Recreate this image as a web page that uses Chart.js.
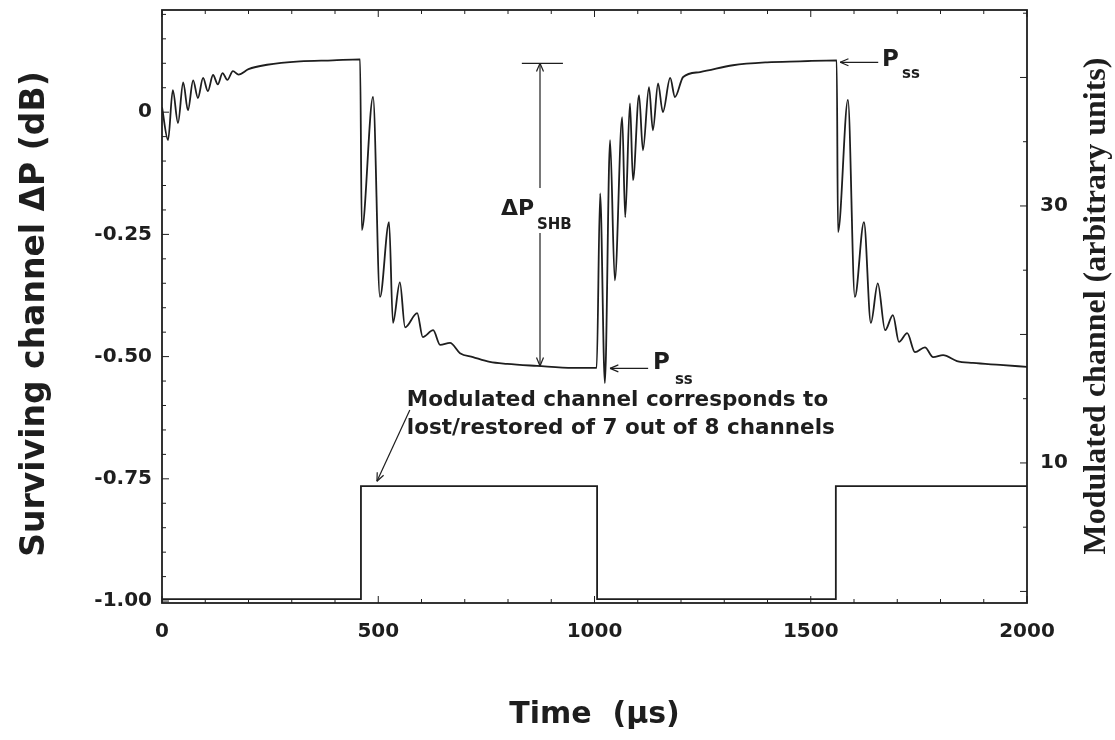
<!DOCTYPE html>
<html>
<head>
<meta charset="utf-8">
<script src="https://cdn.jsdelivr.net/npm/chart.js@4.4.1/dist/chart.umd.min.js"></script>
<style>
    body { margin: 0; background: #fff; }
    canvas { display: block; }
</style>
</head>
<body>
<canvas id="graphique" width="1115" height="740"></canvas>
<script>
// Canal survivant : temps (µs) et ΔP (dB)
const tempsSurvivant = [
    0, 14, 25, 37, 49, 60, 72, 83, 95, 106, 118, 129, 140, 151, 164, 177, 200, 243, 319, 395, 458,
    462, 488, 504, 525, 534, 550, 562, 590, 603, 627, 643, 666, 689, 719, 758, 798, 867, 950, 1005,
    1013, 1024, 1036, 1047, 1064, 1071, 1082, 1089, 1103, 1112, 1126, 1135, 1147, 1158, 1175, 1186, 1205, 1244, 1320, 1399, 1475, 1560,
    1563, 1586, 1602, 1623, 1639, 1655, 1672, 1690, 1704, 1723, 1741, 1764, 1783, 1806, 1838, 1875, 1938, 2000
];
const deltaP = [
    0.01, -0.057, 0.045, -0.022, 0.061, 0.004, 0.065, 0.029, 0.070, 0.043, 0.076, 0.057, 0.080, 0.066, 0.084, 0.077, 0.088, 0.097, 0.104, 0.106, 0.108,
    -0.241, 0.031, -0.378, -0.225, -0.431, -0.348, -0.44, -0.411, -0.46, -0.446, -0.476, -0.472, -0.493, -0.501, -0.511, -0.515, -0.519, -0.523, -0.523,
    -0.166, -0.554, -0.057, -0.344, -0.010, -0.215, 0.018, -0.139, 0.035, -0.078, 0.051, -0.037, 0.059, 0.0, 0.070, 0.031, 0.072, 0.082, 0.096, 0.102, 0.104, 0.106,
    -0.245, 0.025, -0.378, -0.225, -0.431, -0.35, -0.446, -0.415, -0.47, -0.452, -0.491, -0.481, -0.501, -0.497, -0.509, -0.513, -0.517, -0.521
];

// Canal modulé (unités arbitraires)
const tempsModule = [0, 460, 460, 1006, 1006, 1558, 1558, 2000];
const niveauModule = [-0.6, -0.6, 8.2, 8.2, -0.6, -0.6, 8.2, 8.2];

// Graduations
const ticksTemps = [0, 500, 1000, 1500, 2000];
const ticksDeltaP = [0, -0.25, -0.5, -0.75, -1.0];
const ticksModule = [10, 30];

const couleur = "#1e1e1e";
const policeTicks = { family: "DejaVu Sans", weight: "bold", size: 20 };

function trait(ctx, x1, y1, x2, y2) {
    ctx.beginPath();
    ctx.moveTo(x1, y1);
    ctx.lineTo(x2, y2);
    ctx.stroke();
}

// flèche ouverte, pointe en (x2, y2)
function fleche(ctx, x1, y1, x2, y2) {
    trait(ctx, x1, y1, x2, y2);
    const a = Math.atan2(y2 - y1, x2 - x1);
    const l = 9;
    trait(ctx, x2, y2, x2 - l * Math.cos(a - 0.4), y2 - l * Math.sin(a - 0.4));
    trait(ctx, x2, y2, x2 - l * Math.cos(a + 0.4), y2 - l * Math.sin(a + 0.4));
}

// texte tourné, lu de bas en haut
function texteVertical(ctx, texte, x, y, police) {
    ctx.save();
    ctx.font = police;
    ctx.textAlign = "center";
    ctx.textBaseline = "middle";
    ctx.translate(x, y);
    ctx.rotate(-Math.PI / 2);
    ctx.fillText(texte, 0, 0);
    ctx.restore();
}

// fond blanc
const fond = {
    id: "fond",
    beforeDraw(chart) {
        const ctx = chart.ctx;
        ctx.save();
        ctx.fillStyle = "#fff";
        ctx.fillRect(0, 0, chart.width, chart.height);
        ctx.restore();
    }
};

// cadre, petites graduations vers l'intérieur et titres verticaux
const cadre = {
    id: "cadre",
    afterDraw(chart) {
        const { ctx, chartArea: { left, right, top, bottom }, scales: { x, y, y2 } } = chart;
        ctx.save();
        ctx.strokeStyle = couleur;
        ctx.lineWidth = 1.8;
        ctx.strokeRect(left, top, right - left, bottom - top);
        ctx.lineWidth = 1;
        for (let t = 0; t <= 2000; t += 100) {
            const p = x.getPixelForValue(t);
            const l = t % 500 === 0 ? 7 : 4;
            trait(ctx, p, bottom, p, bottom - l);
            trait(ctx, p, top, p, top + l);
        }
        for (let i = -20; i <= 4; i++) {
            const p = y.getPixelForValue(i * 0.05);
            const l = i % 5 === 0 ? 7 : 4;
            trait(ctx, left, p, left + l, p);
        }
        for (let m = 0; m <= 45; m += 5) {
            const p = y2.getPixelForValue(m);
            const l = m % 10 === 0 ? 7 : 4;
            trait(ctx, right, p, right - l, p);
        }
        ctx.fillStyle = couleur;
        texteVertical(ctx, "Surviving channel ΔP (dB)", 35, 314, 'bold 33px "DejaVu Sans"');
        texteVertical(ctx, "Modulated channel (arbitrary units)", 1097, 306, 'bold 32px "Liberation Serif"');
        ctx.restore();
    }
};

// annotations placées en coordonnées des données
const annotations = {
    id: "annotations",
    afterDatasetsDraw(chart) {
        const { ctx, scales: { x, y } } = chart;
        const px = t => x.getPixelForValue(t);
        const py = v => y.getPixelForValue(v);
        ctx.save();
        ctx.strokeStyle = couleur;
        ctx.fillStyle = couleur;
        ctx.lineWidth = 1.2;

        // ΔP SHB
        trait(ctx, px(832), py(0.100), px(927), py(0.100));
        fleche(ctx, px(874), py(-0.155), px(874), py(0.100));
        fleche(ctx, px(874), py(-0.247), px(874), py(-0.519));
        ctx.textBaseline = "middle";
        ctx.textAlign = "left";
        ctx.font = 'bold 22px "DejaVu Sans"';
        ctx.fillText("ΔP", px(784), py(-0.198));
        ctx.font = 'bold 15px "DejaVu Sans"';
        ctx.fillText("SHB", px(867), py(-0.231));

        // Pss en bas
        fleche(ctx, px(1124), py(-0.524), px(1036), py(-0.524));
        ctx.font = 'bold 23px "DejaVu Sans"';
        ctx.fillText("P", px(1135), py(-0.513));
        ctx.font = 'bold 15px "DejaVu Sans"';
        ctx.fillText("ss", px(1186), py(-0.548));

        // Pss en haut
        fleche(ctx, px(1656), py(0.102), px(1568), py(0.102));
        ctx.font = 'bold 23px "DejaVu Sans"';
        ctx.fillText("P", px(1665), py(0.106));
        ctx.font = 'bold 15px "DejaVu Sans"';
        ctx.fillText("ss", px(1711), py(0.078));

        // texte sur le canal modulé
        ctx.font = 'bold 21.5px "DejaVu Sans"';
        ctx.fillText("Modulated channel corresponds to", px(566), py(-0.589));
        ctx.fillText("lost/restored of 7 out of 8 channels", px(566), py(-0.646));
        fleche(ctx, px(573), py(-0.609), px(497), py(-0.755));
        ctx.restore();
    }
};

const donneesSurvivant = tempsSurvivant.map((t, i) => ({ x: t, y: deltaP[i] }));
const donneesModule = tempsModule.map((t, i) => ({ x: t, y: niveauModule[i] }));

// pas de marge automatique autour des axes
function sansMargeVerticale(s) {
    s.paddingTop = 0;
    s.paddingBottom = 0;
}

const config = {
    type: "line",
    data: {
        datasets: [{
            label: "Surviving channel",
            data: donneesSurvivant,
            yAxisID: "y",
            borderColor: couleur,
            borderWidth: 1.8,
            pointRadius: 0,
            cubicInterpolationMode: "monotone",
        }, {
            label: "Modulated channel",
            data: donneesModule,
            yAxisID: "y2",
            borderColor: couleur,
            borderWidth: 1.8,
            pointRadius: 0,
            tension: 0,
        }],
    },
    options: {
        responsive: false,
        animation: false,
        layout: { padding: { top: 10, left: 0, right: 0, bottom: 0 } },
        plugins: { legend: { display: false }, tooltip: { enabled: false } },
        scales: {
            x: {
                type: "linear",
                min: 0,
                max: 2000,
                afterBuildTicks: s => { s.ticks = ticksTemps.map(v => ({ value: v })); },
                afterFit: s => { s.height = 137; s.paddingLeft = 0; s.paddingRight = 0; },
                ticks: { font: policeTicks, color: couleur, padding: 17, maxRotation: 0, callback: v => String(v) },
                grid: { display: false, drawTicks: false },
                border: { display: false },
                title: {
                    display: true,
                    text: "Time  (µs)",
                    color: couleur,
                    font: { family: "DejaVu Sans", weight: "bold", size: 30 },
                    padding: { top: 0, bottom: 7 },
                },
            },
            y: {
                position: "left",
                min: -1.004,
                max: 0.209,
                afterBuildTicks: s => { s.ticks = ticksDeltaP.map(v => ({ value: v })); },
                afterFit: s => { s.width = 162; sansMargeVerticale(s); },
                ticks: {
                    font: policeTicks,
                    color: couleur,
                    padding: 10,
                    callback: v => v === 0 ? "0" : v.toFixed(2),
                },
                grid: { display: false, drawTicks: false },
                border: { display: false },
            },
            y2: {
                position: "right",
                min: -0.9,
                max: 45.25,
                afterBuildTicks: s => { s.ticks = ticksModule.map(v => ({ value: v })); },
                afterFit: s => { s.width = 88; sansMargeVerticale(s); },
                ticks: { font: policeTicks, color: couleur, padding: 13 },
                grid: { display: false, drawTicks: false },
                border: { display: false },
            },
        },
    },
    plugins: [fond, annotations, cadre],
};

const graphique = new Chart(document.getElementById("graphique"), config);
</script>
</body>
</html>
